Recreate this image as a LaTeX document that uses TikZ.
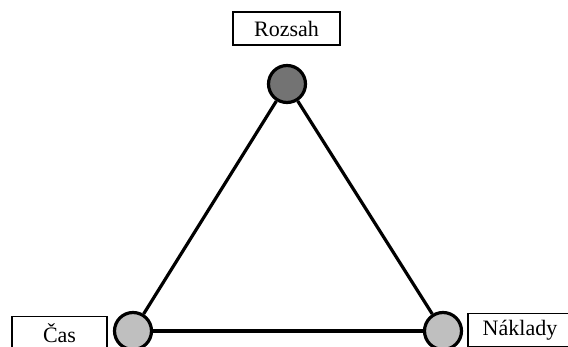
\documentclass[tikz,border=0pt]{standalone}
\usepackage{fontspec}
\setmainfont{Liberation Serif}
\usepackage{xcolor}
\usepackage{tikz}

\begin{document}
\begin{tikzpicture}[x=1pt, y=-1pt, font=\fontsize{22}{24}\selectfont,
  lbl/.style={draw, line width=1.1pt, minimum height=33pt, inner sep=2pt},
  vert/.style={draw, circle, line width=3.2pt, minimum size=37pt, inner sep=0pt},
  edge/.style={line width=3.2pt}]
\useasboundingbox (0,0) rectangle (568,347);
\node[vert, fill=black!55] (top)  at (287,84)  {};
\node[vert, fill=black!25] (left)  at (133,331) {};
\node[vert, fill=black!25] (right) at (443,331) {};
\node[lbl, minimum width=107pt] (rozsah)  at (286.5,28.5) {Rozsah};
\node[lbl, minimum width=95pt]  (cas)     at (59.5,333)   {Čas};
\node[lbl, minimum width=104pt] (naklady) at (520,330)    {Náklady};

\draw[edge] (top) -- (left);
\draw[edge] (top) -- (right);
\draw[edge] (left) -- (right);
\end{tikzpicture}
\end{document}
